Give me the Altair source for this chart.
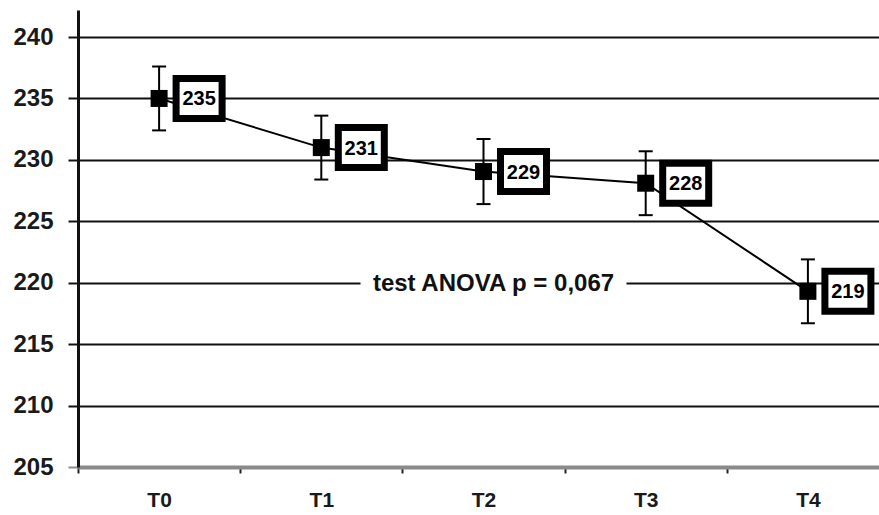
import altair as alt
import pandas as pd

times = ["T0", "T1", "T2", "T3", "T4"]
means = [235.0, 231.0, 229.05, 228.1, 219.3]
errs = [2.6, 2.6, 2.65, 2.6, 2.6]
labels = ["235", "231", "229", "228", "219"]
y_ticks = [205, 210, 215, 220, 225, 230, 235, 240]
note = "test ANOVA p = 0,067"

df = pd.DataFrame({
    "t": times,
    "m": means,
    "lo": [m - e for m, e in zip(means, errs)],
    "hi": [m + e for m, e in zip(means, errs)],
    "lab": labels,
})
note_df = pd.DataFrame({"t": ["T2"], "m": [220.0], "txt": [note]})

FONT = "Liberation Sans"

x_enc = alt.X(
    "t:N",
    sort=times,
    scale=alt.Scale(range=[0, 811], paddingInner=0, paddingOuter=0),
    axis=alt.Axis(
        title=None, labelAngle=0, domainColor="#8a8a8a", domainWidth=4,
        tickColor="#222", tickSize=6, tickWidth=2, tickBand="extent",
        labelFont=FONT, labelFontWeight="bold", labelFontSize=21,
        labelColor="#1a1a1a", labelPadding=16,
    ),
)
y_scale = alt.Scale(domain=[205, 242.2], nice=False, zero=False)
y_axis = alt.Axis(
    title=None, values=y_ticks, grid=True,
    gridColor={"condition": {"test": "datum.value === 205", "value": "#8a8a8a"}, "value": "#111"},
    gridWidth=2,
    tickColor={"condition": {"test": "datum.value === 205", "value": "#8a8a8a"}, "value": "#111"},
    tickWidth=2, tickSize=10,
    domainColor="#111", domainWidth=3,
    labelFont=FONT, labelFontWeight="bold", labelFontSize=24,
    labelColor="#1a1a1a", labelPadding=15,
)

base = alt.Chart(df)

line = base.mark_line(color="black", strokeWidth=2).encode(
    x=x_enc, y=alt.Y("m:Q", scale=y_scale, axis=y_axis)
)
bars = base.mark_rule(color="black", strokeWidth=2).encode(
    x=x_enc, y=alt.Y("lo:Q", scale=y_scale), y2="hi:Q"
)
cap_lo = base.mark_tick(color="black", size=14, thickness=2, opacity=1).encode(
    x=x_enc, y=alt.Y("lo:Q", scale=y_scale)
)
cap_hi = base.mark_tick(color="black", size=14, thickness=2, opacity=1).encode(
    x=x_enc, y=alt.Y("hi:Q", scale=y_scale)
)
squares = base.mark_square(size=289, color="black", opacity=1).encode(
    x=x_enc, y=alt.Y("m:Q", scale=y_scale)
)
boxes = base.mark_point(
    shape="M-1.15,-1H1.15V1H-1.15Z", size=1600, filled=True, fill="white",
    stroke="black", strokeWidth=7, opacity=1, xOffset=40,
).encode(x=x_enc, y=alt.Y("m:Q", scale=y_scale))
texts = base.mark_text(
    font=FONT, fontWeight="bold", fontSize=20, color="black", dx=40, dy=1,
).encode(x=x_enc, y=alt.Y("m:Q", scale=y_scale), text="lab:N")

note_base = alt.Chart(note_df)
note_bg = note_base.mark_point(
    shape="M-6.045,-0.5H6.045V0.5H-6.045Z", size=1936, filled=True,
    fill="white", strokeWidth=0, opacity=1, xOffset=10,
).encode(x=x_enc, y=alt.Y("m:Q", scale=y_scale))
note_txt = note_base.mark_text(
    font=FONT, fontWeight="bold", fontSize=24, color="#111", dx=10, dy=1,
).encode(x=x_enc, y=alt.Y("m:Q", scale=y_scale), text="txt:N")

chart = alt.layer(
    note_bg, line, bars, cap_lo, cap_hi, squares, boxes, texts, note_txt
).properties(
    width=801, height=457,
    padding={"left": 78, "top": 10, "right": 0, "bottom": 48},
    autosize=alt.AutoSizeParams(type="none"),
    background="white",
).configure_view(stroke=None)

chart.save("out.html", embed_options={"renderer": "svg", "actions": False})
